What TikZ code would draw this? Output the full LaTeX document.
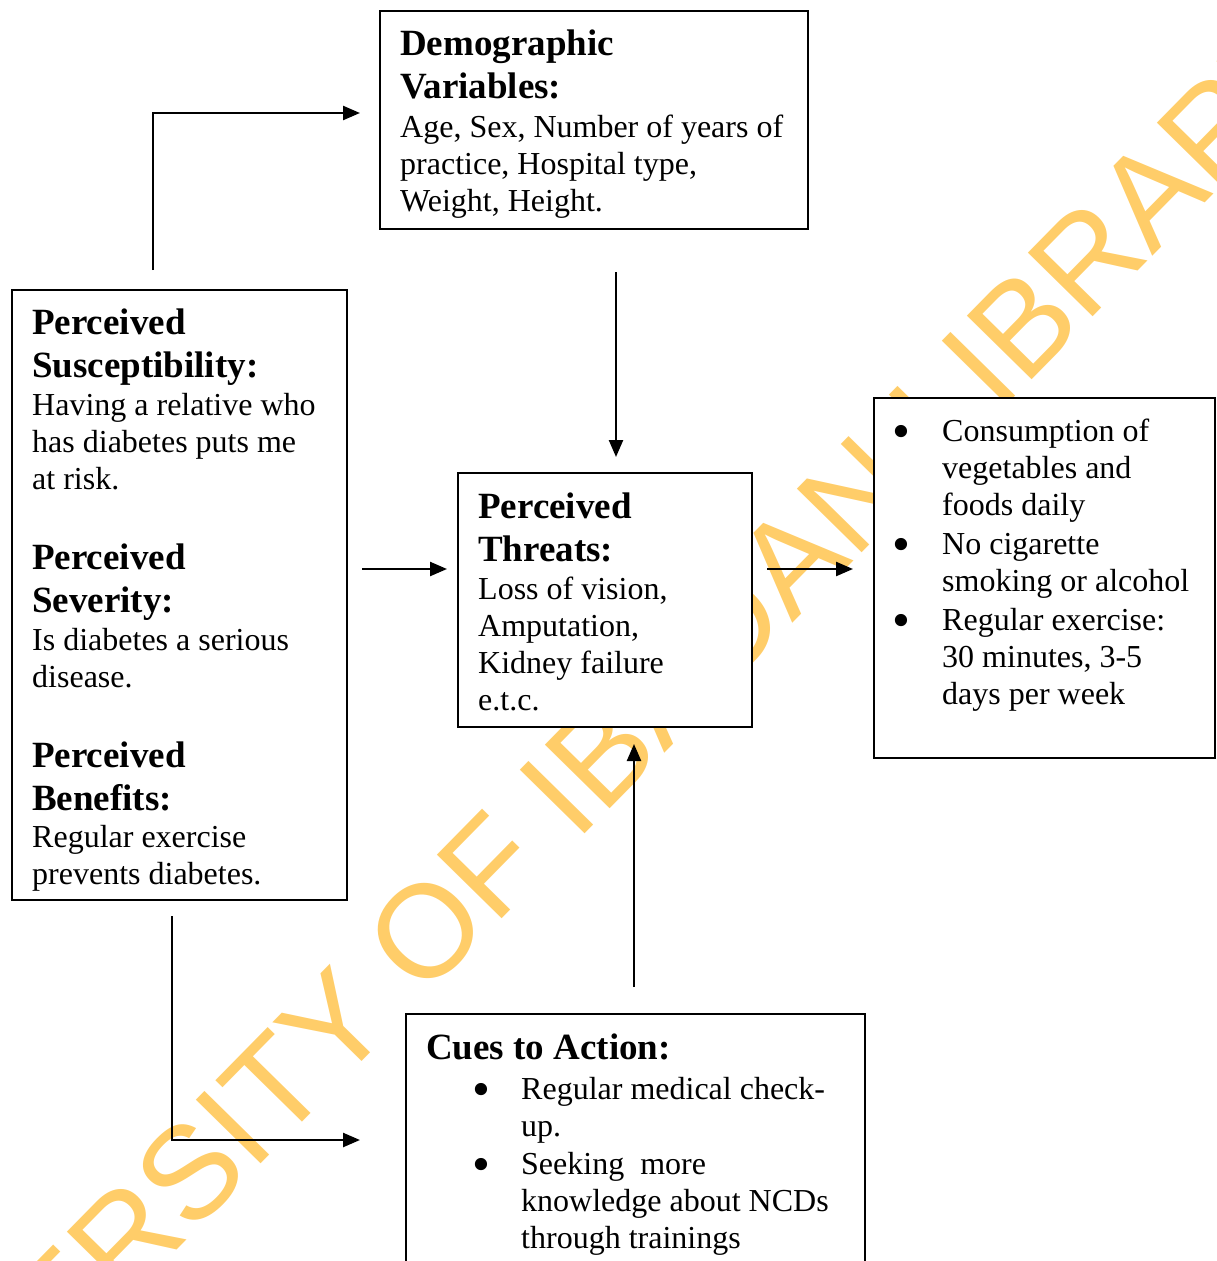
\documentclass[tikz,border=0pt]{standalone}
\usepackage{fontspec}
\setmainfont{Liberation Serif}
\newfontfamily\wmfont{Liberation Sans}
\usetikzlibrary{arrows.meta}
\usetikzlibrary{calc}
\usetikzlibrary{positioning}
\definecolor{ibadangold}{RGB}{255, 205, 105}
\newcommand{\wordspace}{\spaceskip=.25em plus .12em minus .06em\xspaceskip=\spaceskip}
\newcommand{\headfont}{\fontsize{37}{43}\selectfont\bfseries\wordspace}
\newcommand{\bodyfont}{\fontsize{32}{37}\selectfont\mdseries\wordspace}
\newcommand{\bigbullet}{\raisebox{-7.5pt}{\scalebox{1.6}{\textbullet}}}
% bullet item: offset, hang, text
\newcommand{\bitem}[3]{\noindent\hangindent=\dimexpr#1+#2\relax\hangafter=1%
  \hspace*{#1}\makebox[#2][l]{\bigbullet}#3\par}
\tikzset{
  box/.style={draw, fill=white, line width=2pt, inner sep=0pt, anchor=north west},
  txt/.style={anchor=base west, inner sep=0pt, text width=#1},
  link/.style={-{Triangle[length=17pt,width=14pt]}, line width=2.4pt}
}

\begin{document}
\begin{tikzpicture}[x=1pt, y=-1pt]
            \useasboundingbox (0,0) rectangle (1216,1261);
            \clip (0,0) rectangle (1216,1261);
            % Watermark
            \node[rotate=45.5, inner sep=0pt, text=ibadangold,
                  font=\wmfont\fontsize{132}{132}\selectfont] (wm) at (559,796) {UNIVERSITY OF IBADAN LIBRARY};
            % Boxes
            \node[box, minimum width=428pt, minimum height=218pt] (demo)    at (379,10)   {};
            \node[box, minimum width=335pt, minimum height=610pt] (susc)    at (11,289)   {};
            \node[box, minimum width=294pt, minimum height=254pt] (threats) at (457,472)  {};
            \node[box, minimum width=341pt, minimum height=360pt] (habits)  at (873,397)  {};
            \node[box, minimum width=459pt, minimum height=280pt] (cues)    at (405,1013) {};
            % Demographic Variables
            \node[txt=400pt] (demotext) at (400,55.5) {%
              {\headfont Demographic\newline Variables:\par}%
              \vspace{2pt}%
              {\bodyfont Age, Sex, Number of years of\newline practice, Hospital type,\newline Weight, Height.\par}};
            % Perceived Susceptibility / Severity / Benefits
            \node[txt=320pt] (susctext) at (32,334) {%
              {\headfont Perceived\newline Susceptibility:\par}%
              \vspace{1pt}%
              {\bodyfont Having a relative who\newline has diabetes puts me\newline at risk.\par}%
              \vspace{37pt}%
              {\headfont Perceived\newline Severity:\par}%
              \vspace{1pt}%
              {\bodyfont Is diabetes a serious\newline disease.\par}%
              \vspace{37pt}%
              {\headfont Perceived\newline Benefits:\par}%
              {\bodyfont Regular exercise\newline prevents diabetes.\par}};
            % Perceived Threats
            \node[txt=280pt] (threatstext) at (478,518) {%
              {\headfont Perceived\newline Threats:\par}%
              \vspace{1pt}%
              {\bodyfont Loss of vision,\newline Amputation,\newline Kidney failure\newline e.t.c.\par}};
            % Healthy habits
            \node[txt=320pt] (habitstext) at (895,441) {%
              {\bodyfont%
              \bitem{-3pt}{50pt}{Consumption of\newline vegetables and\newline foods daily}%
              \vspace{2pt}%
              \bitem{-3pt}{50pt}{No cigarette\newline smoking or alcohol}%
              \vspace{2pt}%
              \bitem{-3pt}{50pt}{Regular exercise:\newline 30 minutes, 3-5\newline days per week}}};
            % Cues to Action
            \node[txt=430pt] (cuestext) at (426,1059) {%
              {\headfont Cues to Action:\par}%
              \vspace{3pt}%
              {\bodyfont%
              \bitem{46pt}{49pt}{Regular medical check-\newline up.}%
              \vspace{1pt}%
              \bitem{46pt}{49pt}{Seeking\ \ more\newline knowledge about NCDs\newline through trainings}}};
            % Arrows
            \draw[link, shorten <=19pt, shorten >=19pt] ($(susc.north west)+(142,0)$) |- ($(demo.north west)+(0,103)$);
            \draw[link, shorten <=42pt, shorten >=15pt] ($(demo.south west)+(237,0)$) -- ($(threats.north west)+(159,0)$);
            \draw[link, shorten <=14pt, shorten >=10pt] ($(susc.north east)+(0,280)$) -- ($(threats.north west)+(0,97)$);
            \draw[link, shorten <=14pt, shorten >=20pt] ($(threats.north east)+(0,97)$) -- ($(habits.north west)+(0,172)$);
            \draw[link, shorten <=26pt, shorten >=16pt] ($(cues.north west)+(229,0)$) -- ($(threats.south west)+(177,0)$);
            \draw[link, shorten <=15pt, shorten >=45pt] ($(susc.south west)+(161,0)$) |- ($(cues.north west)+(0,127)$);
\end{tikzpicture}
\end{document}
